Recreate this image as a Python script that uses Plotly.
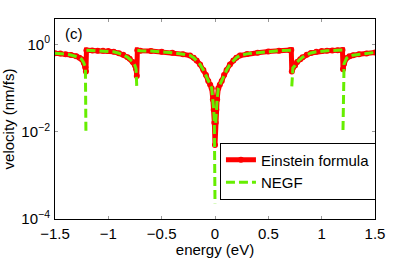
import plotly.graph_objects as go

# ---------------- data ----------------
einstein_energy = [
    -1.50, -1.45, -1.40, -1.35, -1.30, -1.27, -1.25, -1.23, -1.215, -1.21,
    -1.205, -1.15, -1.10, -1.05, -1.00, -0.95, -0.90, -0.86, -0.82, -0.80,
    -0.77, -0.75, -0.74, -0.733, -0.728, -0.70, -0.60, -0.50, -0.40, -0.30,
    -0.234, -0.20, -0.172, -0.14, -0.109, -0.085, -0.063, -0.045, -0.031, -0.02,
    -0.012, -0.006, 0.0,
    0.006, 0.012, 0.02, 0.031, 0.045, 0.063, 0.085, 0.109, 0.14, 0.172,
    0.20, 0.234, 0.30, 0.40, 0.50, 0.60, 0.70, 0.715, 0.72, 0.73,
    0.75, 0.77, 0.80, 0.82, 0.86, 0.90, 0.95, 1.00, 1.05, 1.10,
    1.15, 1.195, 1.20, 1.21, 1.234, 1.26, 1.295, 1.35, 1.42, 1.50,
]
einstein_velocity = [
    0.63, 0.62, 0.60, 0.575, 0.54, 0.50, 0.46, 0.38, 0.30, 0.24,
    0.74, 0.73, 0.72, 0.715, 0.71, 0.68, 0.63, 0.58, 0.51, 0.47,
    0.40, 0.33, 0.275, 0.19, 0.74, 0.72, 0.71, 0.68, 0.645, 0.60,
    0.56, 0.50, 0.43, 0.35, 0.26, 0.20, 0.145, 0.12, 0.10, 0.055,
    0.032, 0.016, 0.005,
    0.016, 0.032, 0.055, 0.10, 0.12, 0.145, 0.20, 0.26, 0.35, 0.43,
    0.50, 0.56, 0.61, 0.65, 0.69, 0.72, 0.74, 0.75, 0.24, 0.29,
    0.33, 0.40, 0.46, 0.51, 0.58, 0.64, 0.68, 0.71, 0.72, 0.73,
    0.74, 0.75, 0.27, 0.36, 0.49, 0.54, 0.57, 0.60, 0.62, 0.66,
]

negf_energy = [
    -1.50, -1.45, -1.40, -1.35, -1.30, -1.27, -1.25, -1.23, -1.215, -1.21, None,
    -1.205, -1.15, -1.10, -1.05, -1.00, -0.95, -0.90, -0.86, -0.82, -0.80,
    -0.77, -0.75, -0.74, -0.733, None, -0.728, -0.70, -0.60, -0.50, -0.40, -0.30,
    -0.234, -0.20, -0.172, -0.14, -0.109, -0.085, -0.063, -0.045, -0.031, -0.02,
    -0.012, -0.006, 0.0, None,
    0.006, 0.012, 0.02, 0.031, 0.045, 0.063, 0.085, 0.109, 0.14, 0.172,
    0.20, 0.234, 0.30, 0.40, 0.50, 0.60, 0.70, 0.715, None, 0.72, 0.73,
    0.75, 0.77, 0.80, 0.82, 0.86, 0.90, 0.95, 1.00, 1.05, 1.10,
    1.15, 1.195, None, 1.20, 1.21, 1.234, 1.26, 1.295, 1.35, 1.42, 1.50,
]
negf_velocity = [
    0.63, 0.62, 0.60, 0.575, 0.54, 0.50, 0.46, 0.38, 0.30, 0.010, None,
    0.74, 0.73, 0.72, 0.715, 0.71, 0.68, 0.63, 0.58, 0.51, 0.47,
    0.40, 0.33, 0.275, 0.10, None, 0.74, 0.72, 0.71, 0.68, 0.645, 0.60,
    0.56, 0.50, 0.43, 0.35, 0.26, 0.20, 0.145, 0.12, 0.10, 0.055,
    0.032, 0.016, 0.00023, None,
    0.016, 0.032, 0.055, 0.10, 0.12, 0.145, 0.20, 0.26, 0.35, 0.43,
    0.50, 0.56, 0.61, 0.65, 0.69, 0.72, 0.74, 0.75, None, 0.11, 0.29,
    0.33, 0.40, 0.46, 0.51, 0.58, 0.64, 0.68, 0.71, 0.72, 0.73,
    0.74, 0.75, None, 0.011, 0.36, 0.49, 0.54, 0.57, 0.60, 0.62, 0.66,
]

x_ticks = [-1.5, -1, -0.5, 0, 0.5, 1, 1.5]
x_tick_labels = ["\u22121.5", "\u22121", "\u22120.5", "0", "0.5", "1", "1.5"]
y_ticks = [1e-4, 1e-2, 1]
y_tick_labels = ["10<sup>\u22124</sup>", "10<sup>\u22122</sup>", "10<sup>0</sup>"]

FONT = "Liberation Sans, Arial, Helvetica, sans-serif"

fig = go.Figure()
fig.add_trace(go.Scatter(
    x=einstein_energy, y=einstein_velocity, name="Einstein formula",
    mode="lines+markers",
    line=dict(color="#FF0000", width=5),
    marker=dict(color="#FF0000", size=6, symbol="circle"),
))
fig.add_trace(go.Scatter(
    x=negf_energy, y=negf_velocity, name="NEGF",
    mode="lines",
    line=dict(color="#66EE00", width=3, dash="9px,4px"),
    connectgaps=False,
))

axis_common = dict(
    showline=True, linecolor="black", linewidth=1, mirror="ticks",
    ticks="inside", ticklen=3, tickcolor="#999999", tickwidth=1,
    showgrid=False, zeroline=False, automargin=False,
    tickfont=dict(family=FONT, size=15, color="black"),
)

fig.update_xaxes(
    range=[-1.5, 1.5], tickvals=x_ticks, ticktext=x_tick_labels,
    title=dict(text="energy (eV)", font=dict(family=FONT, size=15, color="black"), standoff=6),
    ticklabelstandoff=1,
    **axis_common,
)
fig.update_yaxes(
    type="log", range=[-4, 0.585], tickvals=y_ticks, ticktext=y_tick_labels,
    title=dict(text="velocity (nm/fs)", font=dict(family=FONT, size=15, color="black"), standoff=7),
    ticklabelstandoff=1,
    **axis_common,
)

fig.add_annotation(
    text="(c)", xref="paper", yref="paper", x=0.025, y=0.925,
    xanchor="left", yanchor="middle", showarrow=False,
    font=dict(family=FONT, size=15, color="black"),
)

fig.update_layout(
    width=415, height=258,
    margin=dict(l=55, r=40, t=19, b=39, pad=0),
    plot_bgcolor="white", paper_bgcolor="white",
    font=dict(family=FONT, size=15, color="black"),
    showlegend=True,
    legend=dict(
        x=1.003, y=0.24, xanchor="right", yanchor="middle",
        bgcolor="white", bordercolor="black", borderwidth=1,
        font=dict(family=FONT, size=15, color="black"),
        itemwidth=30, tracegroupgap=0,
    ),
)

# remove the browser's default 8px page margin so the figure sits at the window's corner
fig.write_html(
    "out.html",
    config={"displayModeBar": False},
    post_script="document.body.style.margin='0';",
)
